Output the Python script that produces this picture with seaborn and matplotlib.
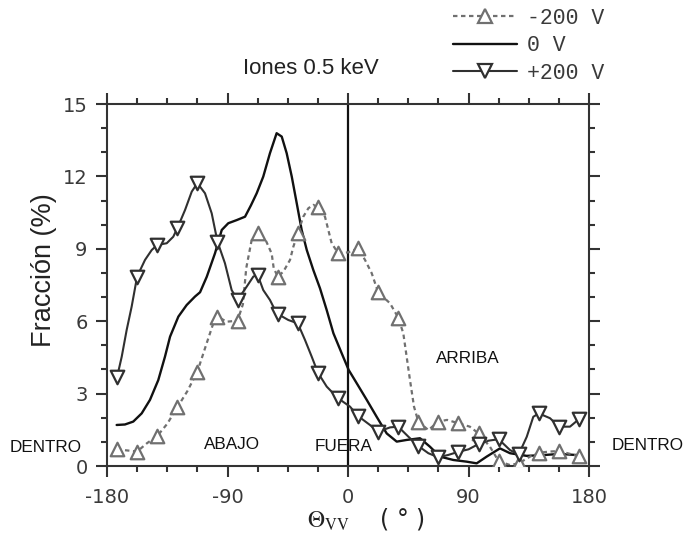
import matplotlib
matplotlib.use("Agg")
import matplotlib.pyplot as plt
from matplotlib.lines import Line2D
from matplotlib.ticker import MultipleLocator
import numpy as np
import pandas as pd
import seaborn as sns

# ---------------------------------------------------------------- data
# Angle grid of the marked samples (every 15 degrees)
theta_marks = [-172.5, -157.5, -142.5, -127.5, -112.5, -97.5, -82.5, -67.5,
               -52.5, -37.5, -22.5, -7.5, 7.5, 22.5, 37.5, 52.5, 67.5, 82.5,
               97.5, 112.5, 127.5, 142.5, 157.5, 172.5]

# -200 V: marked samples and extra points along the curve between them
frac_neg_marks = [0.69, 0.60, 1.24, 2.43, 3.91, 6.19, 6.02, 9.64, 7.85, 9.64,
                  10.72, 8.83, 9.02, 7.20, 6.15, 1.84, 1.84, 1.77, 1.35, 0.20,
                  0.11, 0.55, 0.62, 0.40]
theta_neg_between = [-150, -135, -120, -105.6, -100.6, -90.6, -78.5, -76, -72,
                     -61, -57, -55.5, -48.3, -43.3, -40.8, -33.4, -29.6, -25.9,
                     -17.2, -14.7, -12.2, 0, 12.7, 17.7, 31.4, 41.3, 43.8, 46.3,
                     49.3, 60, 74, 91, 106, 121, 136, 151, 166]
frac_neg_between = [0.95, 1.75, 3.10, 5.08, 5.91, 5.98, 6.70, 8.20, 9.35,
                    9.30, 8.80, 8.20, 8.05, 8.54, 9.09, 10.33, 10.68, 10.82,
                    10.33, 9.78, 9.23, 8.85, 8.54, 7.99, 6.74, 5.50, 4.53, 3.56,
                    2.46, 1.49, 1.91, 1.63, 0.80, 0.04, 0.39, 0.60, 0.50]

# +200 V: marked samples and extra points along the curve between them
frac_pos_marks = [3.68, 7.85, 9.16, 9.85, 11.72, 9.30, 6.88, 7.92, 6.30, 5.91,
                  3.87, 2.81, 2.07, 1.42, 1.63, 0.83, 0.36, 0.59, 0.91, 1.11,
                  0.48, 2.18, 1.63, 1.94]
theta_pos_between = [-169, -165.3, -161.6, -151.6, -146.6, -135.4, -130.5,
                     -121.7, -116.7, -106.8, -101.8, -91.9, -86.9, -75.7, -70.7,
                     -63.3, -58.3, -54.5, -44.6, -32.1, -27.1, -15.9, 1.5, 16.4,
                     31.4, 45, 60, 75, 90, 105, 121, 133.5, 138.4, 150.9, 165.8]
frac_pos_between = [4.53, 5.64, 6.60, 8.54, 8.95, 9.23, 9.50, 10.61, 11.37,
                    11.30, 10.47, 8.40, 7.29, 7.43, 7.85, 7.29, 6.88, 6.46,
                    6.05, 5.22, 4.53, 3.29, 2.46, 1.70, 1.60, 1.22, 0.53, 0.46,
                    0.69, 1.05, 0.66, 1.21, 2.04, 1.98, 1.63]

# 0 V: continuous curve, no markers
theta_zero = [-172.8, -166.6, -160.4, -154.1, -147.9, -141.7, -136.7, -132.9,
              -126.7, -120.5, -114.3, -110.5, -105.5, -99.3, -94.3, -89.4,
              -83.1, -76.9, -72.5, -68.2, -63.3, -58.3, -53.3, -49.5, -45.8,
              -42.0, -38.3, -34.6, -30.8, -25.9, -20.9, -15.9, -10.9, -4.7,
              0.5, 6.5, 14.0, 21.4, 28.9, 36.4, 43.8, 53.8, 61.2, 68.7, 78.6,
              88.6, 96.1, 103.6, 113.5, 121.0, 133.4, 145.0, 158.0, 172.0]
frac_zero = [1.70, 1.72, 1.84, 2.18, 2.74, 3.56, 4.53, 5.36, 6.19, 6.67, 7.02,
             7.20, 7.84, 8.82, 9.78, 10.06, 10.19, 10.33, 10.80, 11.30, 11.99,
             12.96, 13.79, 13.65, 12.96, 11.99, 10.89, 9.78, 8.95, 8.12, 7.36,
             6.46, 5.50, 4.67, 3.98, 3.43, 2.74, 2.04, 1.35, 1.01, 1.08, 1.15,
             0.80, 0.39, 0.25, 0.18, 0.11, 0.39, 0.73, 0.53, 0.42, 0.45, 0.50,
             0.45]

series_labels = ["-200 V", "0 V", "+200 V"]
x_ticks = [-180, -90, 0, 90, 180]
y_ticks = [0, 3, 6, 9, 12, 15]


def curve(theta_m, frac_m, theta_b, frac_b):
    df = pd.DataFrame({
        "theta": list(theta_m) + list(theta_b),
        "frac": list(frac_m) + list(frac_b),
        "marked": [True] * len(theta_m) + [False] * len(theta_b),
    })
    return df.sort_values("theta").reset_index(drop=True)


neg = curve(theta_marks, frac_neg_marks, theta_neg_between, frac_neg_between)
pos = curve(theta_marks, frac_pos_marks, theta_pos_between, frac_pos_between)
zero = pd.DataFrame({"theta": theta_zero, "frac": frac_zero})

# ---------------------------------------------------------------- style
sns.set_style("ticks")
plt.rcParams["font.family"] = ["DejaVu Sans"]
plt.rcParams["mathtext.fontset"] = "stix"
plt.rcParams["axes.unicode_minus"] = False

C_NEG = "#707070"
C_ZERO = "#111111"
C_POS = "#303030"
AX_C = "#333333"
NEG_LS = (0, (2.0, 1.6))

fig = plt.figure(figsize=(6.83, 5.37), dpi=100)
ax = fig.add_axes([107 / 683, 1 - 466 / 537, 482 / 683, 362 / 537])

ax.axvline(0, color=C_ZERO, lw=1.6, zorder=1.5)

sns.lineplot(data=zero, x="theta", y="frac", ax=ax, color=C_ZERO, lw=1.7,
             estimator=None, zorder=2)
sns.lineplot(data=neg, x="theta", y="frac", ax=ax, color=C_NEG, lw=1.6,
             linestyle=NEG_LS, estimator=None, zorder=2)
sns.lineplot(data=pos, x="theta", y="frac", ax=ax, color=C_POS, lw=1.5,
             estimator=None, zorder=2)

sns.scatterplot(data=neg[neg["marked"]], x="theta", y="frac", ax=ax,
                marker="^", s=95, color="white", edgecolor=C_NEG,
                linewidth=1.6, zorder=4)
sns.scatterplot(data=pos[pos["marked"]], x="theta", y="frac", ax=ax,
                marker="v", s=95, color="white", edgecolor=C_POS,
                linewidth=1.6, zorder=5)

# ---------------------------------------------------------------- axes
ax.set_xlim(-180, 180)
ax.set_ylim(0, 15)
ax.set_xticks(x_ticks)
ax.set_yticks(y_ticks)
ax.xaxis.set_minor_locator(MultipleLocator(22.5))
ax.yaxis.set_minor_locator(MultipleLocator(1))
ax.tick_params(which="both", direction="out", top=True, right=True,
               labeltop=False, labelright=False, color=AX_C, width=1.5,
               labelcolor="#3a3a3a", labelsize=14)
ax.tick_params(which="major", length=8)
ax.tick_params(which="minor", length=4.5)
ax.tick_params(axis="x", which="major", pad=7.5)
ax.tick_params(axis="y", which="major", pad=6)
for sp in ax.spines.values():
    sp.set_visible(True)
    sp.set_color(AX_C)
    sp.set_linewidth(1.5)

ax.set_ylabel("Fracción (%)", fontsize=19.5, family="Liberation Sans",
              color="#222222", va="center")
ax.yaxis.set_label_coords(-0.1307, 0.541)
ax.set_xlabel(r"$\Theta_{\mathrm{VV}}$    ( ° )", fontsize=17,
              color="#222222", va="center")
ax.xaxis.set_label_coords(0.537, -0.146)

ax.text(0.423, 1.0994, "Iones 0.5 keV", transform=ax.transAxes,
        ha="center", va="center", fontsize=16, family="Liberation Sans",
        color="#222222")

# region labels
region_kw = dict(ha="center", va="center", fontsize=12.3,
                 family="Liberation Sans", color="#111111", clip_on=False)
ax.text(-225.6, 0.75, "DENTRO", **region_kw)
ax.text(224.0, 0.87, "DENTRO", **region_kw)
ax.text(-86.6, 0.89, "ABAJO", **region_kw)
ax.text(-3.5, 0.80, "FUERA", **region_kw)
ax.text(89.5, 4.45, "ARRIBA", **region_kw)

# ---------------------------------------------------------------- legend
handles = [
    Line2D([], [], color=C_NEG, lw=1.6, ls=NEG_LS, marker="^", ms=9.5,
           mfc="white", mec=C_NEG, mew=1.6),
    Line2D([], [], color=C_ZERO, lw=1.7),
    Line2D([], [], color=C_POS, lw=1.5, marker="v", ms=9.5, mfc="white",
           mec=C_POS, mew=1.6),
]
ax.legend(handles, series_labels, loc="upper left",
          bbox_to_anchor=(453 / 683, 1 - 8 / 537),
          bbox_transform=fig.transFigure, frameon=False,
          prop={"family": "Liberation Mono", "size": 15.5},
          labelcolor="#3a3a3a", handlelength=2.95, handletextpad=0.5,
          labelspacing=0.3, borderpad=0, borderaxespad=0, numpoints=1)

fig.savefig("out.png", dpi=100)
